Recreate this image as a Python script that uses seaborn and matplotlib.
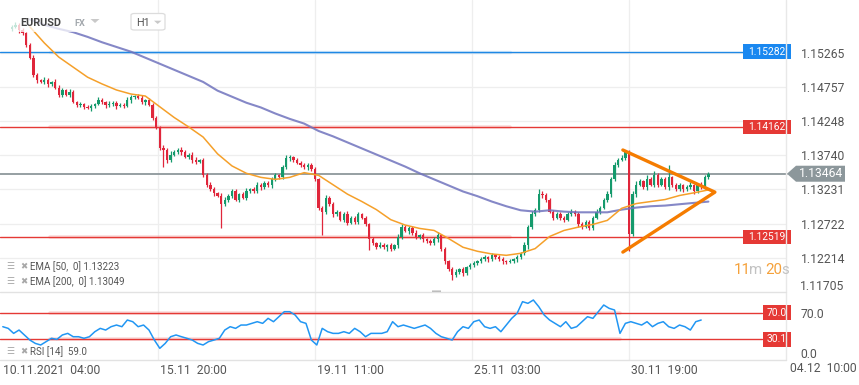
import numpy as np
import matplotlib
matplotlib.use("Agg")
import matplotlib.pyplot as plt
import matplotlib.transforms as mtrans
from matplotlib.patches import Rectangle, Polygon, FancyBboxPatch
import seaborn as sns

# ---------------- data ----------------
tick_hours = [0, 87, 174, 261, 348, 435]
tick_labels = ["10.11.2021  04:00", "15.11  20:00", "19.11  11:00",
               "25.11  03:00", "30.11  19:00", "04.12  10:00"]
price_ticks = [1.15265, 1.14757, 1.14248, 1.13740, 1.13231, 1.12722, 1.12214, 1.11705]

candle_start_hour = 6
candle_step_hours = 2
first_open = 1.1562
closes = [
    1.1565, 1.1568, 1.1560, 1.1556, 1.1538, 1.1519, 1.1493, 1.1486, 1.1483, 1.1486,
    1.1480, 1.1483, 1.1474, 1.1464, 1.1471, 1.1464, 1.1468, 1.1453, 1.1449, 1.1450,
    1.1445, 1.1444, 1.1447, 1.1450, 1.1456, 1.1453, 1.1448, 1.1450, 1.1452, 1.1447,
    1.1449, 1.1447, 1.1456, 1.1461, 1.1462, 1.1459, 1.1453, 1.1456, 1.1449, 1.1430,
    1.1415, 1.1385, 1.1382, 1.1367, 1.1375, 1.1379, 1.1382, 1.1378, 1.1372, 1.1375,
    1.1367, 1.1364, 1.1367, 1.1345, 1.1330, 1.1323, 1.1317, 1.1314, 1.1301, 1.1308,
    1.1314, 1.1320, 1.1308, 1.1316, 1.1311, 1.1320, 1.1323, 1.1320, 1.1330, 1.1326,
    1.1333, 1.1329, 1.1338, 1.1344, 1.1341, 1.1356, 1.1370, 1.1371, 1.1367, 1.1363,
    1.1359, 1.1356, 1.1360, 1.1353, 1.1338, 1.1296, 1.1290, 1.1311, 1.1301, 1.1286,
    1.1289, 1.1278, 1.1286, 1.1273, 1.1281, 1.1275, 1.1286, 1.1281, 1.1271, 1.1249,
    1.1243, 1.1238, 1.1241, 1.1237, 1.1240, 1.1235, 1.1240, 1.1252, 1.1267, 1.1261,
    1.1266, 1.1258, 1.1252, 1.1255, 1.1249, 1.1246, 1.1243, 1.1249, 1.1255, 1.1234,
    1.1216, 1.1204, 1.1195, 1.1200, 1.1204, 1.1198, 1.1207, 1.1210, 1.1213, 1.1216,
    1.1219, 1.1222, 1.1219, 1.1225, 1.1222, 1.1219, 1.1216, 1.1215, 1.1216, 1.1219,
    1.1222, 1.1228, 1.1241, 1.1267, 1.1286, 1.1293, 1.1316, 1.1315, 1.1308, 1.1290,
    1.1281, 1.1286, 1.1281, 1.1278, 1.1287, 1.1290, 1.1286, 1.1271, 1.1267, 1.1275,
    1.1266, 1.1281, 1.1290, 1.1296, 1.1308, 1.1316, 1.1338, 1.1360, 1.1367, 1.1370,
    1.1379, 1.1256, 1.1316, 1.1330, 1.1335, 1.1326, 1.1338, 1.1330, 1.1345, 1.1330,
    1.1338, 1.1326, 1.1341, 1.1329, 1.1323, 1.1329, 1.1323, 1.1326, 1.1329, 1.1320,
    1.1330, 1.1326, 1.1341, 1.13464,
]
wick_up_pips = [
    3, 4, 2, 3, 2, 3, 4, 3, 2, 4,
    3, 2, 4, 5, 3, 2, 4, 3, 2, 3,
    2, 4, 3, 2, 5, 3, 2, 4, 3, 2,
    3, 2, 4, 3, 2, 3, 4, 2, 3, 2,
    3, 2, 4, 3, 5, 3, 2, 4, 3, 2,
    3, 4, 2, 3, 2, 4, 3, 2, 3, 4,
    2, 3, 4, 2, 3, 5, 2, 3, 4, 2,
    3, 2, 4, 3, 2, 3, 5, 4, 2, 3,
    2, 4, 3, 2, 3, 2, 3, 4, 2, 3,
    4, 2, 3, 5, 2, 3, 4, 2, 3, 2,
    3, 2, 4, 3, 2, 3, 2, 4, 5, 3,
    2, 3, 4, 2, 3, 2, 4, 3, 5, 2,
    3, 2, 3, 4, 2, 3, 2, 4, 3, 2,
    3, 4, 2, 3, 2, 4, 3, 2, 3, 2,
    3, 2, 4, 3, 5, 3, 7, 4, 2, 3,
    2, 4, 3, 2, 3, 4, 2, 3, 4, 2,
    3, 2, 4, 3, 2, 5, 3, 4, 3, 5,
    3, 2, 4, 5, 3, 2, 6, 3, 5, 2,
    4, 3, 19, 2, 3, 4, 2, 3, 5, 2,
    3, 4, 3, 2,
]
wick_dn_pips = [
    3, 2, 4, 3, 3, 2, 3, 4, 2, 3,
    4, 3, 2, 3, 4, 2, 3, 2, 4, 3,
    3, 2, 4, 3, 2, 3, 4, 2, 3, 4,
    2, 3, 2, 4, 3, 2, 3, 4, 2, 3,
    2, 3, 25, 4, 3, 2, 3, 4, 2, 3,
    4, 3, 2, 3, 4, 2, 3, 2, 36, 3,
    3, 4, 2, 3, 2, 4, 3, 2, 3, 4,
    2, 3, 4, 2, 3, 2, 3, 4, 3, 2,
    3, 2, 4, 3, 2, 4, 35, 3, 2, 4,
    3, 2, 4, 3, 2, 3, 4, 2, 3, 16,
    3, 4, 2, 3, 5, 3, 2, 4, 3, 2,
    4, 3, 2, 3, 4, 2, 3, 2, 4, 3,
    4, 3, 6, 2, 3, 4, 2, 3, 2, 3,
    2, 3, 4, 2, 3, 2, 4, 3, 2, 3,
    4, 2, 3, 7, 3, 2, 3, 4, 3, 2,
    3, 2, 4, 3, 2, 3, 2, 4, 3, 2,
    3, 4, 2, 3, 2, 3, 4, 2, 3, 2,
    3, 25, 3, 4, 2, 3, 4, 2, 3, 4,
    2, 3, 4, 3, 2, 3, 4, 2, 3, 4,
    3, 2, 3, 2,
]

ema_start_hour = 16
ema_step_hours = 8
ema50 = [1.1565, 1.1541, 1.1520, 1.1505, 1.1490, 1.1480, 1.1471, 1.1465,
         1.1462, 1.1446, 1.1430, 1.1416, 1.1401, 1.1376, 1.1358, 1.1347,
         1.1341, 1.1338, 1.1341, 1.1348, 1.1344, 1.1330, 1.1316, 1.1305,
         1.1293, 1.1278, 1.1270, 1.1265, 1.1262, 1.1250, 1.1237, 1.1231,
         1.1227, 1.1225, 1.1228, 1.1235, 1.1253, 1.1262, 1.1267, 1.1271,
         1.1277, 1.1295, 1.1302, 1.1305, 1.1308, 1.1314, 1.1318, 1.13223]
ema200 = [1.1576, 1.1568, 1.1562, 1.1557, 1.1550, 1.1542, 1.1535, 1.1528,
          1.1519, 1.1510, 1.1501, 1.1492, 1.1483, 1.1470, 1.1461, 1.1452,
          1.1445, 1.1436, 1.1428, 1.1421, 1.1410, 1.1402, 1.1393, 1.1384,
          1.1375, 1.1366, 1.1357, 1.1347, 1.1338, 1.1329, 1.1320, 1.1313,
          1.1305, 1.1298, 1.1292, 1.1290, 1.1292, 1.1290, 1.1289, 1.1289,
          1.1289, 1.1293, 1.1296, 1.1298, 1.1299, 1.1301, 1.1303, 1.13049]

rsi_start_hour = 1
rsi_step_hours = 3
rsi = [49, 46.5, 39, 44, 36.6, 29, 24, 21.6, 26.6, 31.6,
       30, 36.6, 39, 34, 34, 31.6, 34, 41.5, 46.5, 44,
       49, 51.5, 49, 59, 56.5, 49, 51.5, 44, 29, 16.6,
       24, 34, 36.6, 34, 31.6, 29, 24, 21.6, 26.6, 29,
       31.6, 44, 49, 46.5, 51.5, 51.5, 54, 56.5, 54, 61.5,
       56.5, 64, 71.5, 71.5, 66.5, 56.5, 54, 29, 21.6, 46.5,
       41.5, 39, 39, 41.5, 39, 46.5, 41.5, 34, 39, 39,
       39, 41.5, 56.5, 49, 51.5, 49, 46.5, 49, 51.5, 46.5,
       39, 34, 31.6, 29, 41.5, 49, 46.5, 56.5, 59, 49,
       46.5, 49, 41.5, 51.5, 61.5, 69, 86.5, 84, 89, 79,
       66.5, 59, 54, 49, 56.5, 46.5, 49, 56.5, 64, 61.5,
       71.5, 81.5, 76.5, 74, 39, 54, 56.5, 54, 51.5, 56.5,
       49, 54, 56.5, 49, 46.5, 51.5, 49, 44, 56.5, 59]

level_blue = 1.15282
levels_red = [1.14162, 1.12519]
last_price = 1.13464
rsi_levels = [70.0, 30.1]
ema50_label = "EMA [50,  0] 1.13223"
ema200_label = "EMA [200,  0] 1.13049"
rsi_label = "RSI [14]  59.0"

tri_hours = [344.6, 395.6, 344.6]
tri_prices = [1.13817, 1.13190, 1.12298]

# ---------------- style ----------------
sns.set_theme(style="white")
plt.rcParams['font.family'] = ['Roboto', 'DejaVu Sans']

W, H = 859, 385
AXW = 786.0
GREEN = '#159a6c'
RED = '#e0263b'
TXT = '#555555'
GRID = '#eeeeee'

fig = plt.figure(figsize=(W / 100, H / 100), dpi=100)
fig.patch.set_facecolor('white')


def fx(px):
    return px / W


def fy(py):
    return 1 - py / H


ax = fig.add_axes([0, fy(291), AXW / W, 291 / H])
axr = fig.add_axes([0, fy(360), AXW / W, 69 / H])

XL = (-0.55, 435.0)
YL = (1.11719, 1.16049)
RL = (-0.9, 102.5)
dpp = (YL[1] - YL[0]) / 291.0   # price per pixel
rpp = (RL[1] - RL[0]) / 69.0    # rsi per pixel

for a in (ax, axr):
    a.set_xlim(*XL)
    for s in a.spines.values():
        s.set_visible(False)
    a.set_facecolor('white')
ax.set_ylim(*YL)
axr.set_ylim(*RL)

# grid
for p in price_ticks[:7]:
    ax.axhline(p, color=GRID, lw=0.9, zorder=0)
for h in tick_hours[1:5]:
    ax.axvline(h, color=GRID, lw=0.9, zorder=0)
    axr.axvline(h, color=GRID, lw=0.9, zorder=0)

bm = mtrans.blended_transform_factory(ax.transAxes, ax.transData)
br = mtrans.blended_transform_factory(axr.transAxes, axr.transData)

# level lines
ax.plot([0, 743 / AXW], [level_blue] * 2, transform=bm, color='#1e88e5', lw=1.0, zorder=1)
ax.plot([50 / AXW, 510 / AXW], [level_blue] * 2, transform=bm, color='#9fcdf5', lw=2.4, alpha=0.35, zorder=0.9)
for lv in levels_red:
    ax.plot([50 / AXW, 510 / AXW], [lv] * 2, transform=bm, color='#f29a9a', lw=2.6, alpha=0.35, zorder=0.9)
    ax.plot([0, 743 / AXW], [lv] * 2, transform=bm, color='#e53935', lw=1.0, zorder=1)
ax.plot([0, 787 / AXW], [last_price] * 2, transform=bm, color='#8d979b', lw=1.3, zorder=1, clip_on=False)

# candles
n = len(closes)
hours = candle_start_hour + candle_step_hours * np.arange(n)
c = np.array(closes)
o = np.r_[first_open, c[:-1]]
top = np.maximum(o, c)
bot = np.minimum(o, c)
highs = top + np.array(wick_up_pips) * 1e-4
lows = bot - np.array(wick_dn_pips) * 1e-4
cols = np.where(c >= o, GREEN, RED)
ax.vlines(hours, lows, highs, colors=cols, lw=0.9, zorder=2)
ax.bar(hours, np.maximum(top - bot, 0.00007), bottom=bot, width=1.3, color=cols,
       linewidth=0, zorder=2.1)

# EMAs
ema_hours = ema_start_hour + ema_step_hours * np.arange(len(ema50))
sns.lineplot(x=ema_hours, y=ema200, ax=ax, color='#7073bd', lw=1.5, alpha=0.85,
             estimator=None, sort=False, legend=False, zorder=3)
sns.lineplot(x=ema_hours, y=ema50, ax=ax, color='#f5a02a', lw=1.1,
             estimator=None, sort=False, legend=False, zorder=3.1)

# triangle
ax.plot(tri_hours, tri_prices, color='#f57c00', lw=2.4, solid_capstyle='round', zorder=4)

# right price axis
ax.yaxis.tick_right()
ax.set_yticks(price_ticks[:7])
ax.set_yticklabels([f"{p:.5f}" for p in price_ticks[:7]])
ax.tick_params(axis='y', length=0, pad=10.5, labelsize=8.7, labelcolor=TXT)
ax.set_xticks([])
fig.text(fx(800), fy(287), f"{price_ticks[7]:.5f}", fontsize=8.7, color=TXT, va='center', ha='left')


def box(a, tr, y, text, color, per_px, x0=743, x1=791, hpx=14.5, fs=7.4):
    a.add_patch(Rectangle((x0 / AXW, y - hpx / 2 * per_px), (x1 - x0) / AXW, hpx * per_px,
                          transform=tr, facecolor=color, edgecolor='none', clip_on=False, zorder=6))
    a.text((x0 + x1) / 2 / AXW, y, text, transform=tr, ha='center', va='center',
           color='white', fontsize=fs, clip_on=False, zorder=7)


box(ax, bm, level_blue, f"{level_blue:.5f}", '#1a88f0', dpp)
for lv in levels_red:
    box(ax, bm, lv, f"{lv:.5f}", '#e53935', dpp)

# current price arrow label
hp = 8 * dpp
pts = [(787 / AXW, last_price), (796 / AXW, last_price + hp), (845 / AXW, last_price + hp),
       (845 / AXW, last_price - hp), (796 / AXW, last_price - hp)]
ax.add_patch(Polygon(pts, closed=True, transform=bm, facecolor='#8c979b', edgecolor='none',
                     clip_on=False, zorder=6))
ax.text(821 / AXW, last_price, f"{last_price:.5f}", transform=bm, ha='center', va='center',
        color='white', fontsize=8.7, clip_on=False, zorder=7)

# ---------------- RSI ----------------
rsi_hours = rsi_start_hour + rsi_step_hours * np.arange(len(rsi))
for lv in rsi_levels:
    axr.plot([50 / AXW, 620 / AXW], [lv] * 2, transform=br, color='#f29a9a', lw=2.6, alpha=0.35, zorder=0.9)
    axr.plot([0, 762 / AXW], [lv] * 2, transform=br, color='#e53935', lw=1.0, zorder=1)
sns.lineplot(x=rsi_hours, y=rsi, ax=axr, color='#2196f3', lw=1.1,
             estimator=None, sort=False, legend=False, zorder=3)
for lv in rsi_levels:
    box(axr, br, lv, f"{lv:.1f}", '#e53935', rpp, x0=763, x1=791)

axr.yaxis.tick_right()
axr.set_yticks([rsi_levels[0]])
axr.set_yticklabels([f"{rsi_levels[0]:.1f}"])
axr.tick_params(axis='y', length=0, pad=10.5, labelsize=8.7, labelcolor=TXT)
fig.text(fx(800), fy(355), "0.0", fontsize=8.7, color=TXT, va='center', ha='left')

axr.set_xticks(tick_hours[:5])
axr.set_xticklabels(tick_labels[:5])
axr.tick_params(axis='x', length=0, pad=3, labelsize=8.7, labelcolor=TXT)
off = mtrans.ScaledTranslation(2 / 100, 0, fig.dpi_scale_trans)
for lab in axr.get_xticklabels():
    lab.set_ha('left')
    lab.set_transform(lab.get_transform() + off)
fig.text(fx(790), fy(368), tick_labels[5], fontsize=8.7, color=TXT, va='center', ha='left')

# separators
fig.add_artist(plt.Line2D([fx(786), fx(786)], [fy(0), fy(360)], color='#e8e8e8', lw=1))
fig.add_artist(plt.Line2D([0, fx(786)], [fy(291.5), fy(291.5)], color='#e2e2e2', lw=1))
fig.add_artist(plt.Line2D([0, fx(786)], [fy(359.5), fy(359.5)], color='#e2e2e2', lw=1))
fig.add_artist(FancyBboxPatch((fx(432), fy(293)), fx(9), 2.5 / H, boxstyle='round,pad=0',
                              transform=fig.transFigure, facecolor='#b5b5b5', edgecolor='none'))

# ---------------- header ----------------
fig.add_artist(Rectangle((fx(8), fy(32)), fx(96), 24 / H, transform=fig.transFigure,
                         facecolor='white', alpha=0.75, edgecolor='none', zorder=8))
fig.text(fx(20.5), fy(23.3), "EURUSD", fontsize=7.8, fontweight='bold', color='#454545',
         va='center', ha='left', zorder=9)
fig.text(fx(74), fy(23.3), "FX", fontsize=6.6, fontweight='bold', color='#a3a8ad',
         va='center', ha='left', zorder=9)
fig.add_artist(Polygon([(fx(90.5), fy(19)), (fx(99.5), fy(19)), (fx(95), fy(23))], closed=True,
                       transform=fig.transFigure, facecolor='#c9c9c9', edgecolor='none', zorder=9))
fig.add_artist(FancyBboxPatch((fx(131), fy(30)), fx(34), 16.5 / H,
                              boxstyle='round,pad=0,rounding_size=0.004',
                              transform=fig.transFigure, facecolor='white',
                              edgecolor='#dcdcdc', lw=0.9, zorder=8))
fig.text(fx(136), fy(23.3), "H1", fontsize=7.8, color='#555555', va='center', ha='left', zorder=9)
fig.add_artist(Polygon([(fx(154), fy(20.7)), (fx(161.5), fy(20.7)), (fx(157.7), fy(24))], closed=True,
                       transform=fig.transFigure, facecolor='#c9c9c9', edgecolor='none', zorder=9))

# indicator legends
for yy, lab in [(266.7, ema50_label), (281.7, ema200_label), (352, rsi_label)]:
    fig.text(fx(6), fy(yy), "\u2630", fontsize=6.5, color='#a8a8a8', va='center', ha='left',
             family=['DejaVu Sans'])
    fig.text(fx(20.5), fy(yy), "\u2716", fontsize=6.2, color='#a8a8a8', va='center', ha='left',
             family=['DejaVu Sans'])
    fig.text(fx(30), fy(yy), lab, fontsize=7, color=TXT, va='center', ha='left')

# countdown
ORG = '#f5a13a'
GRY = '#c2c2c2'
for xx, s, col in [(733.5, "11", ORG), (748.8, "m", GRY), (765.5, "20", ORG), (781.8, "s", GRY)]:
    fig.text(fx(xx), fy(270.5), s, fontsize=10.8, color=col, va='center', ha='left')

fig.savefig("out.png", dpi=100)
